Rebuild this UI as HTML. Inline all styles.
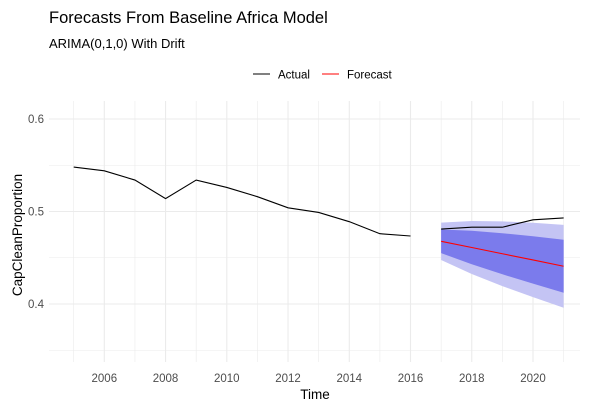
<!DOCTYPE html>
<html><head><meta charset="utf-8"><style>
body{margin:0;background:#fff;font-family:"Liberation Sans",sans-serif}
</style></head><body>
<svg width="594" height="408" xmlns="http://www.w3.org/2000/svg" font-family="Liberation Sans, sans-serif">
<text x="49" y="23" font-size="16.5" fill="#000">Forecasts From Baseline Africa Model</text>
<text x="49" y="48" font-size="13" fill="#000">ARIMA(0,1,0) With Drift</text>
<g>
<line x1="253" y1="74" x2="270" y2="74" stroke="#000" stroke-width="1"/>
<text x="278" y="78.5" font-size="11.5" fill="#000">Actual</text>
<line x1="322" y1="74" x2="339" y2="74" stroke="#ff0000" stroke-width="1"/>
<text x="347" y="78.5" font-size="11.5" fill="#000">Forecast</text>
</g>
<g id="grid"></g>
<g id="bands"></g>
<g id="lines"></g>
<g id="axes"></g>
<text transform="translate(22,235) rotate(-90)" text-anchor="middle" font-size="13.5" fill="#000">CapCleanProportion</text>
<text x="315" y="399" text-anchor="middle" font-size="13.5" fill="#000">Time</text>
</svg>
<script>
const trainYears=[2005,2006,2007,2008,2009,2010,2011,2012,2013,2014,2015,2016];
const trainValues=[0.548,0.544,0.534,0.514,0.534,0.526,0.516,0.504,0.499,0.489,0.476,0.4735];
const testYears=[2017,2018,2019,2020,2021];
const testValues=[0.481,0.483,0.483,0.491,0.493];
const fcYears=[2017,2018,2019,2020,2021];
const fcMean=[0.4678,0.4611,0.4543,0.4476,0.4408];
const lo80=[0.4550,0.4430,0.4321,0.4220,0.4122];
const hi80=[0.4806,0.4792,0.4765,0.4732,0.4694];
const lo95=[0.4476,0.4325,0.4193,0.4074,0.3960];
const hi95=[0.4880,0.4897,0.4893,0.4878,0.4856];
const xTicks=[2006,2008,2010,2012,2014,2016,2018,2020];
const yTicks=[0.4,0.5,0.6];
const NS='http://www.w3.org/2000/svg';
const x=v=>73.7+(v-2005)*30.62;
const y=v=>119+(0.6-v)*925;
function mk(tag,attrs,parent){const e=document.createElementNS(NS,tag);for(const k in attrs)e.setAttribute(k,attrs[k]);document.getElementById(parent).appendChild(e);return e;}
const pTop=101,pBot=362,pLeft=49,pRight=580;
for(let yr=2005;yr<=2021;yr++){const l=mk('line',{x1:x(yr),x2:x(yr),y1:pTop,y2:pBot,stroke:'#ebebeb','stroke-width':yr%2==0?1.1:0.6},'grid');

}
for(let v=0.35;v<=0.6001;v+=0.05){const l=mk('line',{x1:pLeft,x2:pRight,y1:y(v),y2:y(v),stroke:'#ebebeb','stroke-width':Math.abs(v*10-Math.round(v*10))<0.01?1.1:0.6},'grid');

}
function band(lo,hi,fill,name){let pts=fcYears.map((yr,i)=>x(yr)+','+y(hi[i]));for(let i=fcYears.length-1;i>=0;i--)pts.push(x(fcYears[i])+','+y(lo[i]));
const p=mk('polygon',{points:pts.join(' '),fill:fill},'bands');

}
band(lo95,hi95,'#c4c4f4','band-95');
band(lo80,hi80,'#7b7bec','band-80');
const a=mk('polyline',{points:trainYears.map((yr,i)=>x(yr)+','+y(trainValues[i])).join(' '),fill:'none',stroke:'#000','stroke-width':1.1},'lines');


const b=mk('polyline',{points:testYears.map((yr,i)=>x(yr)+','+y(testValues[i])).join(' '),fill:'none',stroke:'#000','stroke-width':1.1},'lines');


const f=mk('polyline',{points:fcYears.map((yr,i)=>x(yr)+','+y(fcMean[i])).join(' '),fill:'none',stroke:'#ff0000','stroke-width':1.1},'lines');


xTicks.forEach(t=>{const e=mk('text',{x:x(t),y:382,'text-anchor':'middle','font-size':11.5,fill:'#4d4d4d'},'axes');e.textContent=t;

});
yTicks.forEach(t=>{const e=mk('text',{x:44,y:y(t)+4,'text-anchor':'end','font-size':11.5,fill:'#4d4d4d'},'axes');e.textContent=t.toFixed(1);

});
</script>
</body></html>
